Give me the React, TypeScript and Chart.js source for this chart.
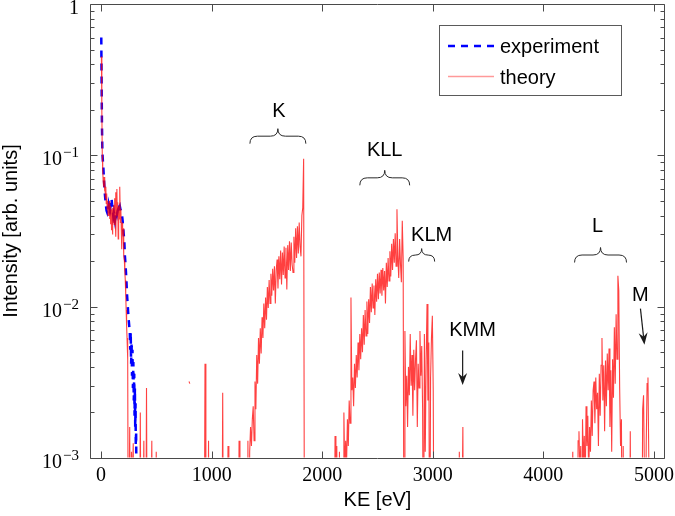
import React, { useEffect, useRef } from "react";
import { Chart, registerables } from "chart.js";

Chart.register(...registerables);

// ---------------- axes ----------------
const X_MIN = -100;
const X_MAX = 5100;
const Y_MIN = 1e-3;
const Y_MAX = 1;
const xTickValues = [0, 1000, 2000, 3000, 4000, 5000];
const yTickExponents = [-3, -2, -1, 0];
const xTitle = "KE [eV]";
const yTitle = "Intensity [arb. units]";
const legendLabels = ["experiment", "theory"];

// ---------------- experiment ----------------
const expKE = [
  2, 5, 8, 12, 16, 20, 25, 30, 35, 40, 45, 50, 55, 60, 65, 70, 75, 80, 85, 90, 95, 100, 105, 110, 115, 120,
  125, 130, 135, 140, 145, 150, 155, 160, 165, 170, 175, 180, 185, 190, 195, 200, 205, 210, 215, 220, 225,
  230, 235, 240, 245, 250, 255, 260, 264, 268, 272, 276, 280, 284, 288, 292, 296, 300, 303, 306, 309, 312,
  314, 317, 319,
];
const expVals = [
  0.6, 0.3, 0.16, 0.105, 0.093, 0.085, 0.072, 0.062, 0.055, 0.05, 0.046, 0.043, 0.042, 0.044, 0.043, 0.047,
  0.045, 0.049, 0.046, 0.05, 0.052, 0.047, 0.044, 0.04, 0.042, 0.039, 0.037, 0.04, 0.042, 0.043, 0.041, 0.043,
  0.044, 0.042, 0.045, 0.046, 0.044, 0.043, 0.042, 0.04, 0.037, 0.0335, 0.03, 0.0275, 0.022, 0.0195, 0.017,
  0.0145, 0.012, 0.0105, 0.0092, 0.0082, 0.0074, 0.0068, 0.0052, 0.0068, 0.0042, 0.0058, 0.0035, 0.0052,
  0.0029, 0.0043, 0.0024, 0.0036, 0.0019, 0.0029, 0.0016, 0.0023, 0.0012, 0.0015, 0.0009,
];

// ---------------- theory (binned spectrum, 0 = empty bin) ----------------
const lowStart = 3;
const lowStep = 4;
const lowVals = [
  0.45, 0.2, 0.1, 0.08, 0.068, 0.062, 0.072, 0.058, 0.07, 0.052, 0.062, 0.048, 0.056, 0.044, 0.05, 0.04,
  0.048, 0.042, 0.05, 0.038, 0.046, 0.035, 0.044, 0.032, 0.041, 0.03, 0.045, 0.036, 0.047, 0.035, 0.052,
  0.04, 0.057, 0.029, 0.05, 0.06, 0.04, 0.049, 0.028, 0.046, 0.038, 0.05, 0.062, 0.036, 0.044, 0.032, 0.024,
  0.036, 0.03, 0.033, 0.026, 0.022, 0.02, 0.017, 0.015, 0.012, 0.0095, 0.0075, 0.0062, 0.0052, 0.0045, 0,
];

const STEP = 8;
const tailStart = 251;
const tailVals = [
  0, 0.0016, 0, 0.0011, 0.0007, 0.00125, 0, 0, 0.0009, 0, 0, 0, 0, 0.002, 0, 0, 0, 0.0013, 0, 0, 0.0029, 0,
  0, 0, 0, 0, 0.0013, 0, 0, 0, 0, 0.0011, 0,
];
const dashKE = [787, 795, 803, 811];
const dashVals = [null, 0.0032, 0.0031, null];
const spikeBStart = 932;
const spikeBVals = [0, 0.0042, 0, 0, 0, 0.0013, 0];
const spikeCStart = 1092;
const spikeCVals = [0, 0.0027, 0, 0, 0, 0, 0, 0.0012, 0];

const kStart = 1240;
const kVals = [
  0, 0.0013, 0, 0, 0, 0, 0, 0, 0, 0, 0, 0.0013, 0, 0.0011, 0.0016, 0.0012, 0.0018, 0.0022, 0.0013, 0.0032,
  0.0021, 0.0048, 0.0031, 0.0062, 0.0042, 0.0072, 0.0049, 0.0085, 0.0062, 0.0105, 0.0072, 0.0115, 0.0082,
  0.0135, 0.0098, 0.015, 0.0105, 0.0165, 0.0118, 0.0178, 0.0128, 0.0185, 0.0105, 0.0175, 0.0205, 0.0132,
  0.0215, 0.0152, 0.0235, 0.014, 0.0228, 0.0162, 0.025, 0.0155, 0.0245, 0.013, 0.0255, 0.0175, 0.027,
  0.0172, 0.0265, 0.019, 0.0168, 0.029, 0.0195, 0.033, 0.021, 0.034, 0.0225, 0.036, 0.025, 0.0215, 0.04,
  0.045, 0.095, 0, 0,
];

const kllStart = 2100;
const kllVals = [
  0, 0, 0.0014, 0, 0.0012, 0, 0, 0.0011, 0, 0, 0.0009, 0, 0.002, 0.0008, 0.0013, 0.0009, 0.0018, 0.0012,
  0.0024, 0.0017, 0.0115, 0.0028, 0.0034, 0.0022, 0.0042, 0.0029, 0.0048, 0.0034, 0.0058, 0.0038, 0.0066,
  0.0045, 0.0072, 0.005, 0.0088, 0.0056, 0.0095, 0.0064, 0.0108, 0.0066, 0.0112, 0.0078, 0.0135, 0.0092,
  0.0142, 0.0098, 0.0138, 0.0088, 0.0152, 0.0108, 0.0165, 0.0112, 0.0168, 0.0122, 0.0175, 0.0118, 0.018,
  0.0128, 0.0172, 0.0105, 0.0195, 0.0135, 0.021, 0.0148, 0.0232, 0.0158, 0.026, 0.0175, 0.028, 0.0195,
  0.0305, 0.0185, 0.044, 0.0215, 0.0155, 0.028, 0.019, 0.0145, 0.037, 0.021, 0,
  // KLM group
  0.0069, 0.0022, 0.0035, 0.0016, 0.004, 0.0026, 0.0066, 0.003, 0.0048, 0.0019, 0.0052, 0.0028, 0.0045,
  0.006, 0.0016, 0.0042, 0.0029, 0.0069, 0.0035, 0.0055, 0.0021, 0, 0.0066, 0.0011, 0.0045, 0.0104, 0.0024,
  0.0058, 0, 0.0034, 0.0062, 0.0087, 0.0028, 0, 0,
];

const kmmStart = 3232;
const kmmVals = [0, 0.0011, 0, 0, 0, 0.0016, 0];

const lStart = 4250;
const lVals = [
  0, 0, 0.0011, 0, 0, 0, 0.0009, 0, 0.0013, 0.0015, 0.0008, 0.0012, 0, 0.0018, 0.0009, 0.0014, 0.0006,
  0.0022, 0.0012, 0.0019, 0.0007, 0.0016, 0.0011, 0.0024, 0.0014, 0.0028, 0.0032, 0.0017, 0.0034, 0.0021,
  0.0027, 0.0012, 0.0036, 0.0019, 0.0041, 0.0062, 0.0024, 0.0041, 0.0015, 0.0044, 0.0022, 0.0049, 0.0028,
  0.0053, 0.0016, 0.0038, 0.0011, 0.0045, 0.0025, 0.0073, 0.0031, 0.0089, 0.0045, 0.016, 0.0128, 0.0029,
  0.0012, 0.0018, 0, 0.0012, 0, 0, 0, 0, 0, 0, 0, 0.0015, 0,
];

const mStart = 4890;
const mVals = [0, 0.0021, 0.0026, 0.0008, 0, 0.0012, 0.0031, 0.0034, 0.0009, 0];

// ---------------- annotations ----------------
const annLabels = ["K", "KLL", "KLM", "KMM", "L", "M"];
const annKE = [1608, 2565, 2990, 3360, 4490, 4878];
const annY = [0.195, 0.108, 0.0295, 0.00693, 0.0339, 0.0118];

const braceKEFrom = [1346, 2340, 2782, 4282];
const braceKETo = [1852, 2791, 3017, 4752];
const braceTipY = [0.15, 0.0796, 0.0242, 0.0246];

const arrowKEFrom = [3270, 4878];
const arrowYFrom = [0.00513, 0.0097];
const arrowKETo = [3270, 4914];
const arrowYTo = [0.00304, 0.0056];

// ---------------- helpers ----------------
// log axis cannot show empty bins: put them below the axis floor (clipped)
const BELOW_AXIS = 1e-4;
function binned(start: number, step: number, vals: (number | null)[]) {
  return vals.map((v, i) => ({ x: start + i * step, y: v === null ? null : v === 0 ? BELOW_AXIS : v }));
}

const SERIF = '"Liberation Serif", "Times New Roman", serif';
const SANS = '"Liberation Sans", Arial, Helvetica, sans-serif';

const overlay = {
  id: "overlay",
  afterDraw(chart: any) {
    const { ctx, chartArea: a, scales } = chart;
    const xs = scales.x;
    const ys = scales.y;
    const L = a.left + 0.5;
    const R = a.right - 0.5;
    const T = a.top + 0.5;
    const B = a.bottom + 0.5;
    ctx.save();

    // frame
    ctx.strokeStyle = "#4a4a4a";
    ctx.lineWidth = 1;
    ctx.setLineDash([]);
    ctx.beginPath();
    ctx.rect(L, T, R - L, B - T);
    ctx.stroke();

    const seg = (x0: number, y0: number, x1: number, y1: number) => {
      ctx.beginPath();
      ctx.moveTo(x0, y0);
      ctx.lineTo(x1, y1);
      ctx.stroke();
    };

    // x ticks (inward, bottom and top)
    const maj = 7;
    const minr = 4;
    xTickValues.forEach((v) => {
      const px = Math.round(xs.getPixelForValue(v)) + 0.5;
      seg(px, B, px, B - maj);
      seg(px, T, px, T + maj);
    });
    // y ticks (log, with minors)
    for (let e = -3; e <= 0; e++) {
      for (let m = 1; m <= 9; m++) {
        const v = m * Math.pow(10, e);
        if (v < Y_MIN * 0.999 || v > Y_MAX * 1.001) continue;
        const py = Math.round(ys.getPixelForValue(v)) + 0.5;
        const len = m === 1 ? maj : minr;
        seg(L, py, L + len, py);
        seg(R, py, R - len, py);
      }
    }

    // tick labels
    ctx.fillStyle = "#000";
    ctx.textBaseline = "alphabetic";
    ctx.font = `20px ${SERIF}`;
    ctx.textAlign = "center";
    xTickValues.forEach((v) => {
      ctx.fillText(String(v), xs.getPixelForValue(v), a.bottom + 23);
    });
    yTickExponents.forEach((e) => {
      const py = ys.getPixelForValue(Math.pow(10, e));
      const right = 79;
      if (e === 0) {
        ctx.font = `20px ${SERIF}`;
        ctx.textAlign = "right";
        ctx.fillText("1", right, py + 10);
      } else {
        ctx.font = `15px ${SERIF}`;
        const sup = "\u2212" + String(-e);
        const sw = ctx.measureText(sup).width;
        ctx.textAlign = "left";
        ctx.fillText(sup, right - sw, py + 2);
        ctx.font = `20px ${SERIF}`;
        ctx.textAlign = "right";
        ctx.fillText("10", right - sw - 1, py + 10);
      }
    });

    // axis titles
    ctx.font = `20px ${SANS}`;
    ctx.textAlign = "center";
    ctx.textBaseline = "middle";
    ctx.fillText(xTitle, (a.left + a.right) / 2, a.bottom + 42);
    ctx.save();
    ctx.translate(17, (a.top + a.bottom) / 2);
    ctx.rotate(-Math.PI / 2);
    ctx.textBaseline = "alphabetic";
    ctx.fillText(yTitle, 0, 0);
    ctx.restore();

    // legend
    const lx = 439.5;
    const ly = 25.5;
    ctx.fillStyle = "#fff";
    ctx.fillRect(lx, ly, 182, 70);
    ctx.strokeStyle = "#5a5a5a";
    ctx.lineWidth = 1;
    ctx.strokeRect(lx, ly, 182, 70);
    ctx.strokeStyle = "rgb(0,0,255)";
    ctx.lineWidth = 2.5;
    ctx.setLineDash([7, 6]);
    seg(448, 46, 495, 46);
    ctx.setLineDash([]);
    ctx.strokeStyle = "rgba(255,0,0,0.4)";
    ctx.lineWidth = 1.6;
    seg(448, 76.5, 494, 76.5);
    ctx.fillStyle = "#000";
    ctx.font = `20px ${SANS}`;
    ctx.textAlign = "left";
    ctx.textBaseline = "alphabetic";
    ctx.fillText(legendLabels[0], 500, 53);
    ctx.fillText(legendLabels[1], 500, 84);

    // annotation labels
    ctx.textAlign = "center";
    ctx.textBaseline = "middle";
    annLabels.forEach((t, i) => {
      ctx.fillText(t, xs.getPixelForValue(annKE[i]), ys.getPixelForValue(annY[i]));
    });

    // braces
    ctx.strokeStyle = "#2a2a2a";
    ctx.lineWidth = 1;
    braceKEFrom.forEach((k0, i) => {
      const x0 = xs.getPixelForValue(k0);
      const x1 = xs.getPixelForValue(braceKETo[i]);
      const yTip = ys.getPixelForValue(braceTipY[i]);
      const h = x1 - x0 < 35 ? 13 : 15;
      const yMid = yTip + h / 2;
      const yEnd = yTip + h;
      const xc = (x0 + x1) / 2;
      const r = Math.min(h / 2, (x1 - x0) / 4);
      ctx.beginPath();
      ctx.moveTo(x0, yEnd);
      ctx.quadraticCurveTo(x0, yMid, x0 + r, yMid);
      ctx.lineTo(xc - r, yMid);
      ctx.quadraticCurveTo(xc, yMid, xc, yTip);
      ctx.quadraticCurveTo(xc, yMid, xc + r, yMid);
      ctx.lineTo(x1 - r, yMid);
      ctx.quadraticCurveTo(x1, yMid, x1, yEnd);
      ctx.stroke();
    });

    // arrows
    ctx.strokeStyle = "#1a1a1a";
    ctx.fillStyle = "#1a1a1a";
    ctx.lineWidth = 1.2;
    arrowKEFrom.forEach((k0, i) => {
      const x0 = xs.getPixelForValue(k0);
      const y0 = ys.getPixelForValue(arrowYFrom[i]);
      const x1 = xs.getPixelForValue(arrowKETo[i]);
      const y1 = ys.getPixelForValue(arrowYTo[i]);
      const dx = x1 - x0;
      const dy = y1 - y0;
      const len = Math.hypot(dx, dy);
      const ux = dx / len;
      const uy = dy / len;
      const px = -uy;
      const py = ux;
      const hl = 12;
      const hw = 4.5;
      const notch = 8;
      seg(x0, y0, x1 - ux * notch, y1 - uy * notch);
      ctx.beginPath();
      ctx.moveTo(x1, y1);
      ctx.lineTo(x1 - ux * hl + px * hw, y1 - uy * hl + py * hw);
      ctx.lineTo(x1 - ux * notch, y1 - uy * notch);
      ctx.lineTo(x1 - ux * hl - px * hw, y1 - uy * hl - py * hw);
      ctx.closePath();
      ctx.fill();
    });

    ctx.restore();
  },
};

export default function App() {
  const ref = useRef<HTMLCanvasElement | null>(null);

  useEffect(() => {
    const canvas = ref.current;
    if (!canvas) return;

    const expData = expKE.slice(0, Math.min(expKE.length, expVals.length)).map((x, i) => ({ x, y: expVals[i] }));
    const theoryData = [
      ...binned(lowStart, lowStep, lowVals),
      ...binned(tailStart, STEP, tailVals),
      ...dashKE.map((x, i) => ({ x, y: dashVals[i] })),
      ...binned(spikeBStart, STEP, spikeBVals),
      ...binned(spikeCStart, STEP, spikeCVals),
      ...binned(kStart, STEP, kVals),
      ...binned(kllStart, STEP, kllVals),
      ...binned(kmmStart, STEP, kmmVals),
      ...binned(lStart, STEP, lVals),
      ...binned(mStart, STEP, mVals),
    ];

    const chart = new Chart(canvas, {
      type: "line",
      data: {
        datasets: [
          {
            label: legendLabels[1],
            data: theoryData as any,
            borderColor: "rgba(255,0,0,0.75)",
            borderWidth: 1.1,
            pointRadius: 0,
            tension: 0,
            spanGaps: false,
            order: 0,
            clip: { left: 0, top: 0, right: 0, bottom: -0.5 } as any,
          },
          {
            label: legendLabels[0],
            data: expData as any,
            borderColor: "rgb(0,0,255)",
            borderWidth: 2.5,
            borderDash: [7, 6],
            pointRadius: 0,
            tension: 0,
            order: 1,
          },
        ],
      },
      options: {
        responsive: false,
        animation: false,
        devicePixelRatio: 1,
        layout: { padding: { left: 90, right: 10, top: 4, bottom: 58 } },
        scales: {
          x: { type: "linear", min: X_MIN, max: X_MAX, display: false },
          y: { type: "logarithmic", min: Y_MIN, max: Y_MAX, display: false },
        },
        plugins: {
          legend: { display: false },
          tooltip: { enabled: false },
        },
        events: [],
      },
      plugins: [overlay],
    });

    return () => chart.destroy();
  }, []);

  return (
    <div style={{ position: "fixed", left: 0, top: 0, width: 675, height: 516, background: "#fff" }}>
      <canvas ref={ref} width={675} height={516} style={{ display: "block", width: 675, height: 516 }} />
    </div>
  );
}
